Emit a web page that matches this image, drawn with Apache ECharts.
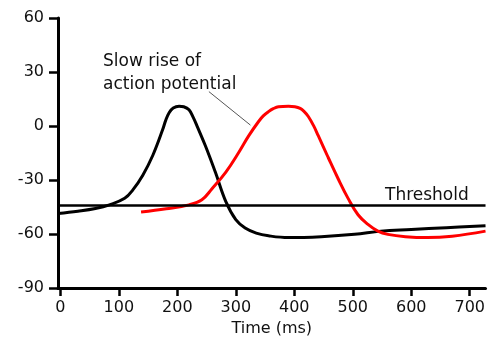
<!DOCTYPE html>
<html>
<head>
<meta charset="utf-8">
<script src="https://cdn.jsdelivr.net/npm/echarts@6/dist/echarts.min.js"></script>
<style>html,body{margin:0;padding:0;background:#fff}#c{width:488px;height:342px}</style>
</head>
<body>
<div id="c"></div>
<script>
const xTicks = [0, 100, 200, 300, 400, 500, 600, 700];
const yTicks = [-90, -60, -30, 0, 30, 60];
const blackT = [-4, 30, 60, 84, 110, 124, 141, 158, 175, 180, 186, 193, 203, 211, 220, 227, 234, 248, 265, 283, 300, 316, 335, 356, 390, 446, 503, 548, 600, 660, 727];
const blackV = [-48.6, -47.3, -45.8, -43.8, -40.2, -35.5, -27.3, -16.4, -2, 3, 7.4, 10, 11, 10.7, 9, 4.9, -0.2, -11, -25.6, -42, -52, -56.7, -59.5, -61, -62, -61.5, -60.2, -58.4, -57.5, -56.5, -55.4];
const redT = [138, 181, 220, 242, 259, 283, 305, 322, 339, 347, 356, 364, 373, 390, 401, 410, 417, 424, 433, 441, 458, 475, 492, 509, 526, 543, 560, 590, 628, 670, 727];
const redV = [-47.8, -46, -43.8, -41, -35, -25.6, -14.7, -5.5, 2.5, 5.6, 8, 9.6, 10.7, 11, 10.7, 9.8, 8, 5.3, 0.2, -5.4, -17.5, -29.3, -40.2, -49.3, -54.7, -58.4, -60.2, -61.5, -62, -61.2, -58.4];
const thresholdValue = -44;
const leaderT = [254, 325];
const leaderV = [19.1, 0.5];
const FONT = 'DejaVu Sans';

const zip = (a, b) => a.map((v, i) => [v, b[i]]);
const chart = echarts.init(document.getElementById('c'), null, {renderer: 'canvas'});
chart.setOption({
  animation: false,
  grid: {left: 58, top: 18, right: 0, bottom: 49, containLabel: false},
  xAxis: {
    type: 'value', min: -4, max: 727,
    name: 'Time (ms)', nameLocation: 'middle', nameGap: 33,
    nameTextStyle: {fontFamily: FONT, fontSize: 16, color: '#111'},
    axisLine: {onZero: false, lineStyle: {color: '#000', width: 3}},
    axisTick: {show: true, length: 8, lineStyle: {color: '#000', width: 2.5}, customValues: xTicks},
    axisLabel: {fontFamily: FONT, fontSize: 16, color: '#111', margin: 12, customValues: xTicks},
    splitLine: {show: false}
  },
  yAxis: {
    type: 'value', min: -90, max: 60, interval: 30,
    axisLine: {show: true, onZero: false, lineStyle: {color: '#000', width: 3}},
    axisTick: {show: true, length: 9, lineStyle: {color: '#000', width: 2.5}},
    axisLabel: {fontFamily: FONT, fontSize: 16, color: '#111', margin: 14, customValues: yTicks},
    splitLine: {show: false}
  },
  series: [
    {
      type: 'line', data: zip(blackT, blackV), smooth: 0.4, symbol: 'none',
      lineStyle: {color: '#000', width: 3},
      markLine: {
        silent: true, symbol: 'none', label: {show: false},
        lineStyle: {color: '#000', width: 2.5, type: 'solid'},
        data: [{yAxis: thresholdValue}]
      }
    },
    {
      type: 'line', data: zip(redT, redV), smooth: 0.4, symbol: 'none',
      lineStyle: {color: '#ff0000', width: 3}
    },
    {
      type: 'line', data: zip(leaderT, leaderV), symbol: 'none',
      lineStyle: {color: '#555', width: 1}
    }
  ],
  graphic: [
    {type: 'text', left: 103, top: 53, style: {text: 'Slow rise of', font: '17px "DejaVu Sans"', fill: '#111'}},
    {type: 'text', left: 103, top: 76, style: {text: 'action potential', font: '17px "DejaVu Sans"', fill: '#111'}},
    {type: 'text', left: 385, top: 187, style: {text: 'Threshold', font: '17px "DejaVu Sans"', fill: '#111'}}
  ]
});
</script>
</body>
</html>
